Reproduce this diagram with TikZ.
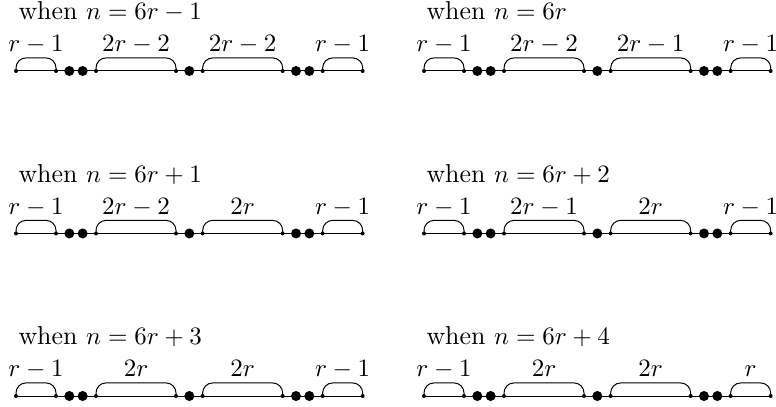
\documentclass[tikz,border=0pt]{standalone}
\usetikzlibrary{calc}

\begin{document}
\begin{tikzpicture}[x=5.333pt,y=-5.333pt,line cap=round,line join=round,
  every node/.style={font=\fontsize{10.35}{12.4}\selectfont}]

% fix the page size
\useasboundingbox (0,0) rectangle (58.2,30.525);

% one panel per case: first point, case, then the four counts
\foreach \px/\py/\cs/\la/\lb/\lc/\ld in {
  1.2/5.325/{6r-1}/{r-1}/{2r-2}/{2r-2}/{r-1},
  31.8/5.325/{6r}/{r-1}/{2r-2}/{2r-1}/{r-1},
  1.2/17.51/{6r+1}/{r-1}/{2r-2}/{2r}/{r-1},
  31.8/17.51/{6r+2}/{r-1}/{2r-1}/{2r}/{r-1},
  1.2/29.7/{6r+3}/{r-1}/{2r}/{2r}/{r-1},
  31.8/29.7/{6r+4}/{r-1}/{2r}/{2r}/{r}}{
\begin{scope}[shift={(\px,\py)}]
  % points on the line
  \foreach \k in {0,3,4,5,6,12,13,14,20,21,22,23,26}
    \coordinate (p\k) at (\k,0);
  \draw (p0) -- (p26);

  % braces over the runs
  \draw[rounded corners=4pt] (p0) -- ++(0,-0.98) -| (p3);
  \draw[rounded corners=4pt] (p6) -- ++(0,-0.98) -| (p12);
  \draw[rounded corners=4pt] (p14) -- ++(0,-0.98) -| (p20);
  \draw[rounded corners=4pt] (p23) -- ++(0,-0.98) -| (p26);

  % counts
  \node[anchor=base] (la) at ($(p0)!0.5!(p3)+(0,-1.43)$) {$\la$};
  \node[anchor=base] (lb) at ($(p6)!0.5!(p12)+(0,-1.43)$) {$\lb$};
  \node[anchor=base] (lc) at ($(p14)!0.5!(p20)+(0,-1.43)$) {$\lc$};
  \node[anchor=base] (ld) at ($(p23)!0.5!(p26)+(0,-1.43)$) {$\ld$};

  % case
  \node[anchor=base west,inner sep=0pt] (cs) at (0.15,-3.83) {when $n=\cs$};

  % point marks
  \foreach \k in {0,3,6,12,14,20,23,26} \fill (p\k) circle (0.8pt);
  \foreach \k in {4,5,13,21,22} \fill (p\k) circle (2pt);
\end{scope}}

\end{tikzpicture}
\end{document}
